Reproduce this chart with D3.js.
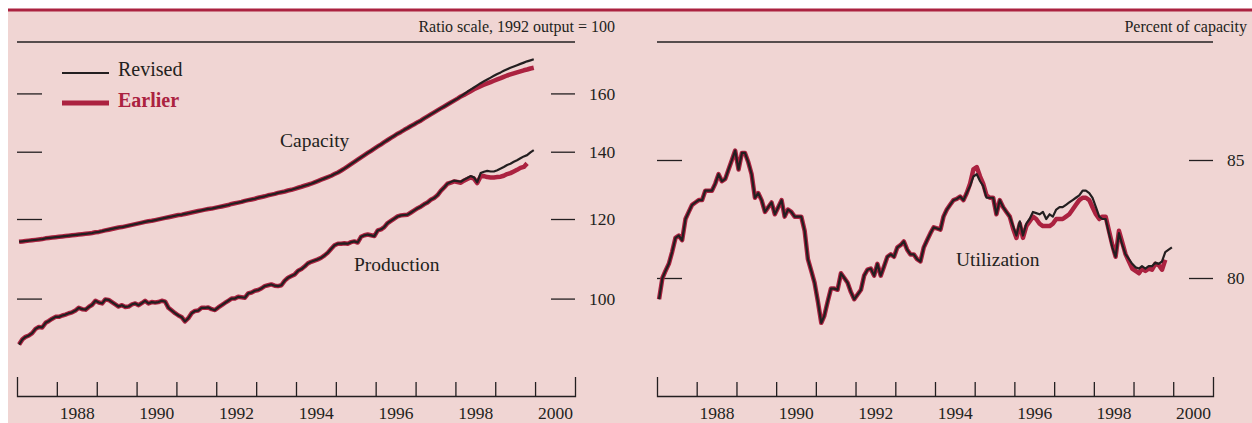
<!DOCTYPE html>
<html>
<head>
<meta charset="utf-8">
<script src="https://cdn.jsdelivr.net/npm/d3@7"></script>
<style>
  body { margin: 0; background: #fff; }
  svg { display: block; font-family: "Liberation Serif", "Times New Roman", serif; }
  .axis text { font-family: "Liberation Serif", "Times New Roman", serif; font-size: 17.5px; fill: #231f20; }
  .axis line, .axis path { stroke: #231f20; stroke-width: 1.3px; }
</style>
</head>
<body>
<div id="chart"></div>
<script>
// monthly, Jan 1987 - Dec 1999 (index 0 = Jan 1987)
const capRevised = [
  113.9,114.0,114.1,114.2,114.3,114.4,114.5,114.6,114.8,114.9,115.0,115.1,
  115.2,115.3,115.4,115.5,115.6,115.7,115.8,115.9,116.0,116.1,116.2,116.4,
  116.5,116.7,116.9,117.1,117.3,117.5,117.7,117.8,118.0,118.2,118.4,118.6,
  118.8,119.0,119.2,119.4,119.5,119.7,119.9,120.1,120.3,120.5,120.7,120.9,
  121.1,121.2,121.4,121.6,121.8,122.0,122.2,122.4,122.6,122.8,122.9,123.1,
  123.3,123.5,123.7,123.9,124.2,124.4,124.6,124.8,125.1,125.3,125.5,125.7,
  126.0,126.2,126.4,126.7,126.9,127.1,127.4,127.6,127.8,128.1,128.3,128.6,
  128.9,129.2,129.5,129.8,130.1,130.5,130.9,131.3,131.7,132.1,132.5,133.0,
  133.5,134.1,134.7,135.4,136.1,136.8,137.5,138.2,138.9,139.6,140.3,141.0,
  141.7,142.4,143.1,143.8,144.5,145.2,145.9,146.5,147.2,147.8,148.5,149.1,
  149.8,150.4,151.1,151.8,152.5,153.2,153.9,154.6,155.3,156.0,156.7,157.4,
  158.1,158.9,159.7,160.6,161.4,162.2,163.0,163.8,164.5,165.2,165.9,166.6,
  167.3,167.9,168.5,169.1,169.7,170.2,170.7,171.2,171.7,172.2,172.6,173.0
];
// earlier estimate from Mar 1998 (index 134) on
const capEarlierTail = [
  159.4,160.1,160.8,161.5,162.1,162.7,163.2,163.7,164.2,164.7,165.2,165.7,
  166.2,166.7,167.1,167.5,167.9,168.3,168.7,169.0,169.4,169.7
];

const prodRevised = [
  90.0,91.1,91.6,91.9,92.4,93.3,93.7,93.6,94.6,95.0,95.5,95.9,
  95.9,96.2,96.4,96.7,96.9,97.3,97.9,97.6,97.5,98.1,98.6,99.5,
  99.1,98.9,99.8,99.7,99.2,98.7,98.2,98.5,98.1,98.2,98.7,98.9,
  98.5,99.0,99.5,98.9,99.2,99.1,99.2,99.5,99.3,97.9,97.3,96.7,
  96.2,95.8,94.9,95.6,96.7,97.2,97.3,97.9,97.9,98.0,97.6,97.4,
  98.0,98.5,99.0,99.5,100.0,100.0,100.4,100.3,100.2,101.2,101.4,101.8,
  102.0,102.4,102.9,103.1,103.3,103.0,102.9,103.1,104.2,104.9,105.3,105.7,
  106.6,107.0,107.6,108.4,108.8,109.1,109.4,109.8,110.4,111.1,112.1,113.0,
  113.4,113.4,113.5,113.4,113.8,114.0,113.7,115.2,115.6,115.8,115.6,115.4,
  116.9,117.2,117.8,118.9,119.5,120.1,120.7,121.0,121.1,121.2,121.8,122.4,
  123.0,123.5,124.1,124.6,125.4,125.9,126.7,128.0,129.0,130.1,130.6,131.0,
  130.9,130.7,131.3,131.8,132.4,132.0,130.5,133.3,133.7,134.0,133.8,133.8,
  134.2,134.7,135.2,135.8,136.2,136.8,137.3,137.9,138.5,138.9,139.8,140.5
];
// earlier estimate from Nov 1997 (index 130) to Oct 1999
const prodEarlierTail = [
  130.4,130.8,130.6,130.4,131.0,131.5,132.0,131.6,130.3,132.3,132.4,132.1,
  132.0,132.0,132.1,132.2,132.5,133.0,133.3,133.8,134.3,134.9,135.2,136.3
];

const utilRevised = [
  79.1,80.0,80.3,80.6,81.1,81.7,81.8,81.6,82.5,82.8,83.1,83.2,
  83.3,83.3,83.7,83.7,83.7,84.0,84.4,84.1,84.2,84.6,85.0,85.4,
  84.6,85.3,85.3,84.9,84.4,83.4,83.6,83.3,82.8,83.0,83.2,82.7,
  83.0,83.3,82.6,82.9,82.8,82.6,82.6,82.6,82.0,80.8,80.3,79.8,
  79.0,78.1,78.4,79.0,79.55,79.55,79.5,80.2,80.0,79.8,79.4,79.1,
  79.3,79.5,80.1,80.35,80.4,80.1,80.6,80.1,80.5,80.9,81.0,80.9,
  81.3,81.4,81.55,81.2,81.0,81.0,80.8,80.7,81.3,81.6,81.9,82.15,
  82.1,82.05,82.6,82.9,83.1,83.3,83.35,83.45,83.3,83.6,83.9,84.3,
  84.4,84.1,83.9,83.4,83.4,83.4,82.7,83.3,83.0,82.8,82.6,82.2,
  81.8,82.4,81.8,82.3,82.5,82.8,82.75,82.7,82.8,82.5,82.7,82.6,
  82.9,83.0,83.0,83.1,83.2,83.3,83.4,83.5,83.7,83.7,83.6,83.4,
  83.0,82.6,82.5,82.5,81.9,81.3,80.9,81.9,81.4,81.0,80.8,80.6,
  80.45,80.4,80.5,80.4,80.5,80.5,80.65,80.6,80.7,81.1,81.2,81.3
];
// earlier estimate from Nov 1994 (index 94) to Oct 1999
const utilEarlierTail = [
  84.0,84.6,84.7,84.3,84.0,83.5,83.4,83.4,82.7,83.3,83.0,82.8,
  82.6,82.1,81.7,82.3,81.7,82.2,82.4,82.6,82.5,82.3,82.2,82.2,
  82.2,82.3,82.5,82.5,82.5,82.6,82.7,82.9,83.1,83.3,83.4,83.4,
  83.3,83.0,82.7,82.5,82.6,82.6,82.0,81.4,80.9,82.0,81.5,81.0,
  80.7,80.4,80.3,80.2,80.4,80.3,80.4,80.35,80.6,80.55,80.35,80.77
];

const capEarlier = capRevised.slice(0, 134).concat(capEarlierTail);
const prodEarlier = prodRevised.slice(0, 130).concat(prodEarlierTail);
const utilEarlier = utilRevised.slice(0, 94).concat(utilEarlierTail);

const leftTicks = [100, 120, 140, 160];
const rightTicks = [80, 85];
const yearLabels = [1988, 1990, 1992, 1994, 1996, 1998, 2000];

const width = 1252, height = 423;
const black = "#231f20", red = "#ab2240", pink = "#f0d5d3";
const plotTop = 42, plotBottom = 396;

const svg = d3.select("#chart").append("svg")
    .attr("width", width)
    .attr("height", height);

svg.append("rect").attr("x", 8).attr("y", 10)
    .attr("width", width - 8).attr("height", height - 10)
    .attr("fill", pink);
svg.append("rect").attr("x", 8).attr("y", 8.5)
    .attr("width", width - 8).attr("height", 3)
    .attr("fill", red);

const monthDate = i => new Date(1987, i, 20);

const drawPanel = (x0, x1, yScale, ticks, note, noteX) => {
    const xScale = d3.scaleTime()
        .domain([new Date(1987, 0, 1), new Date(2001, 0, 1)])
        .range([x0, x1]);
    const g = svg.append("g");

    // header rule + note
    g.append("line")
        .attr("x1", x0).attr("x2", x1)
        .attr("y1", plotTop).attr("y2", plotTop)
        .attr("stroke", black).attr("stroke-width", 1.6);
    g.append("text")
        .attr("x", noteX).attr("y", 32)
        .attr("text-anchor", "end")
        .attr("font-size", "16px")
        .attr("fill", black)
        .text(note);

    // x axis: year ticks pointing up, longer ends
    g.append("g")
        .attr("class", "axis")
        .attr("transform", `translate(0, ${plotBottom})`)
        .call(d3.axisBottom(xScale)
            .tickValues(d3.timeYear.range(new Date(1988, 0, 1), new Date(2000, 1, 1)))
            .tickSizeInner(-14)
            .tickSizeOuter(-19)
            .tickFormat(""));
    g.append("g")
        .attr("class", "axis")
        .attr("transform", `translate(0, ${plotBottom})`)
        .call(d3.axisBottom(xScale)
            .tickValues(yearLabels.map(y => new Date(y, 6, 1)))
            .tickSize(0)
            .tickPadding(10.5)
            .tickFormat(d3.timeFormat("%Y")))
        .call(a => a.select(".domain").remove());

    // y ticks both sides, labels on the right
    g.append("g")
        .attr("class", "axis")
        .attr("transform", `translate(${x0}, 0)`)
        .call(d3.axisRight(yScale).tickValues(ticks).tickSize(25).tickFormat(""))
        .call(a => a.select(".domain").remove());
    g.append("g")
        .attr("class", "axis")
        .attr("transform", `translate(${x1 - 24}, 0)`)
        .call(d3.axisRight(yScale).tickValues(ticks).tickSize(24).tickPadding(14))
        .call(a => a.select(".domain").remove());

    const line = d3.line()
        .x((d, i) => xScale(monthDate(i)))
        .y(d => yScale(d));
    return { g, line };
};

const drawPair = (p, earlier, revised) => {
    p.g.append("path")
        .attr("d", p.line(earlier))
        .attr("fill", "none")
        .attr("stroke", red)
        .attr("stroke-width", 4.5)
        .attr("stroke-linejoin", "round");
    p.g.append("path")
        .attr("d", p.line(revised))
        .attr("fill", "none")
        .attr("stroke", black)
        .attr("stroke-width", 2.2)
        .attr("stroke-linejoin", "round");
};

// left panel: ratio scale
const yLeft = d3.scaleLog().domain([80, 180]).range([plotBottom, plotTop]);
const left = drawPanel(17, 575, yLeft, leftTicks, "Ratio scale, 1992 output = 100", 615);
drawPair(left, capEarlier, capRevised);
drawPair(left, prodEarlier, prodRevised);

// right panel: percent
const yRight = d3.scaleLinear().domain([75, 90]).range([plotBottom, plotTop]);
const right = drawPanel(657, 1213, yRight, rightTicks, "Percent of capacity", 1247);
drawPair(right, utilEarlier, utilRevised);

// labels
const label = (x, y, t) => svg.append("text")
    .attr("x", x).attr("y", y)
    .attr("font-size", "19.5px")
    .attr("fill", black)
    .text(t);
label(280, 147, "Capacity");
label(354, 271, "Production");
label(956, 266, "Utilization");

// legend
svg.append("line").attr("x1", 62).attr("x2", 109).attr("y1", 73).attr("y2", 73)
    .attr("stroke", black).attr("stroke-width", 2.2);
svg.append("text").attr("x", 118).attr("y", 76)
    .attr("font-size", "20px").attr("fill", black).text("Revised");
svg.append("line").attr("x1", 62).attr("x2", 109).attr("y1", 103).attr("y2", 103)
    .attr("stroke", red).attr("stroke-width", 5);
svg.append("text").attr("x", 118).attr("y", 107)
    .attr("font-size", "20px").attr("font-weight", "bold").attr("fill", red).text("Earlier");
</script>
</body>
</html>
